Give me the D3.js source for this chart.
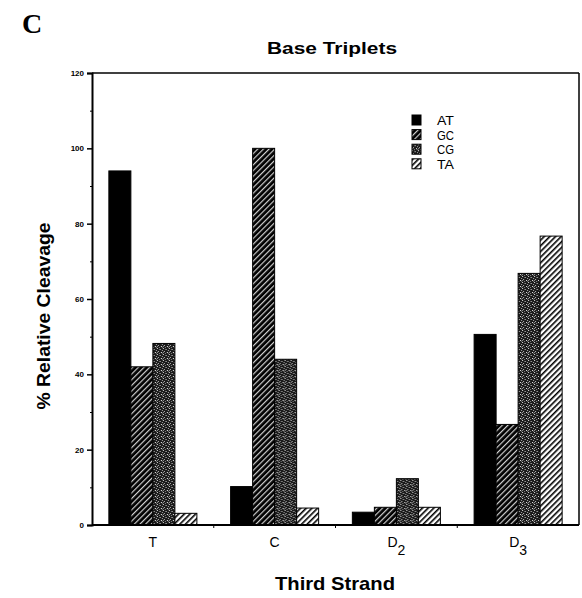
<!DOCTYPE html>
<html>
<head>
<meta charset="utf-8">
<script src="https://cdn.jsdelivr.net/npm/d3@7/dist/d3.min.js"></script>
<style>
  html, body { margin: 0; padding: 0; background: #fff; }
  svg { display: block; font-family: "Liberation Sans", Arial, Helvetica, sans-serif; }
</style>
</head>
<body>
<svg id="chart" width="582" height="598"></svg>
<script>
// ---- data ----
const categories = ["T", "C", "D2", "D3"];
const categorySubs = ["", "", "2", "3"];
const categoryBase = ["T", "C", "D", "D"];
const seriesNames = ["AT", "GC", "CG", "TA"];
const valuesAT = [94, 10.2, 3.4, 50.6];
const valuesGC = [42, 100, 4.7, 26.7];
const valuesCG = [48.2, 44, 12.3, 66.8];
const valuesTA = [3.1, 4.5, 4.7, 76.7];
const yTicks = [0, 20, 40, 60, 80, 100, 120];
const yMinorTicks = [10, 30, 50, 70, 90, 110];

const seriesValues = [valuesAT, valuesGC, valuesCG, valuesTA];

const svg = d3.select("#chart");
const plotLeft = 92, plotRight = 579, plotTop = 73, plotBottom = 525;

// patterns
const defs = svg.append("defs");
const pGC = defs.append("pattern").attr("id", "pGC").attr("patternUnits", "userSpaceOnUse")
  .attr("width", 4).attr("height", 4).attr("patternTransform", "rotate(45)");
pGC.append("rect").attr("width", 4).attr("height", 4).attr("fill", "#000");
pGC.append("rect").attr("x", 0).attr("y", 0).attr("width", 1.2).attr("height", 4).attr("fill", "#d0d0d0");
const pCG = defs.append("pattern").attr("id", "pCG").attr("patternUnits", "userSpaceOnUse")
  .attr("width", 6).attr("height", 6);
pCG.append("rect").attr("width", 6).attr("height", 6).attr("fill", "#1a1a1a");
[[0,0,"#ddd"],[3,1,"#999"],[1,3,"#bbb"],[4,4,"#eee"],[2,5,"#888"],[5,2,"#aaa"],[2,1,"#666"],[5,5,"#777"],[0,4,"#999"]].forEach(([x,y,c]) => {
  pCG.append("rect").attr("x", x).attr("y", y).attr("width", 1).attr("height", 1).attr("fill", c);
});
const pTA = defs.append("pattern").attr("id", "pTA").attr("patternUnits", "userSpaceOnUse")
  .attr("width", 4).attr("height", 4).attr("patternTransform", "rotate(45)");
pTA.append("rect").attr("width", 4).attr("height", 4).attr("fill", "#fff");
pTA.append("rect").attr("x", 0).attr("y", 0).attr("width", 1.6).attr("height", 4).attr("fill", "#000");

const fills = ["#000", "url(#pGC)", "url(#pCG)", "url(#pTA)"];

// scales
const x0 = d3.scaleBand().domain(categories).range([plotLeft, plotRight]).paddingInner(0.277).paddingOuter(0.1385);
const x1 = d3.scaleBand().domain(seriesNames).range([0, x0.bandwidth()]).padding(0);
const y = d3.scaleLinear().domain([0, 120]).range([plotBottom, plotTop]);

// bars
const groups = svg.append("g").selectAll("g").data(categories).join("g")
  .attr("transform", d => `translate(${x0(d)},0)`);
groups.selectAll("rect").data((d, i) => seriesNames.map((s, j) => ({ s, j, v: seriesValues[j][i] })))
  .join("rect")
  .attr("x", d => x1(d.s))
  .attr("y", d => y(d.v))
  .attr("width", x1.bandwidth())
  .attr("height", d => y(0) - y(d.v))
  .attr("fill", d => fills[d.j])
  .attr("stroke", "#000")
  .attr("stroke-width", 1);

// frame
svg.append("line").attr("x1", plotLeft).attr("x2", plotRight).attr("y1", plotTop).attr("y2", plotTop).attr("stroke", "#000").attr("stroke-width", 1.5);
svg.append("line").attr("x1", plotRight).attr("x2", plotRight).attr("y1", plotTop).attr("y2", plotBottom).attr("stroke", "#000").attr("stroke-width", 1.5);

// y axis
const yAxis = d3.axisLeft(y).tickValues(yTicks).tickSize(5).tickPadding(3).tickFormat(d3.format("d"));
const gy = svg.append("g").attr("transform", `translate(${plotLeft},0)`).call(yAxis);
gy.select(".domain").attr("stroke-width", 2);
gy.selectAll(".tick line").attr("stroke-width", 1.5);
gy.selectAll(".tick text").attr("font-size", 8).attr("font-weight", "bold").attr("font-family", "'Liberation Sans', Arial, sans-serif");
const gyMinor = svg.append("g").attr("transform", `translate(${plotLeft},0)`)
  .call(d3.axisLeft(y).tickValues(yMinorTicks).tickSize(2).tickFormat(""));
gyMinor.select(".domain").remove();

// x axis
const xAxis = d3.axisBottom(x0).tickSize(0).tickPadding(12).tickFormat("");
const gx = svg.append("g").attr("transform", `translate(0,${plotBottom})`).call(xAxis);
gx.select(".domain").attr("stroke-width", 2).attr("d", `M${plotLeft},0H${plotRight}`);
const boundaries = categories.slice(1).map(c => x0(c) - x0.step() * x0.paddingInner() / 2);
gx.selectAll(".bnd").data(boundaries).join("line").attr("class", "bnd")
  .attr("x1", d => d).attr("x2", d => d).attr("y1", 0).attr("y2", 3).attr("stroke", "#000");

// category labels with subscripts
categories.forEach((c, i) => {
  const t = svg.append("text")
    .attr("x", x0(c) + x0.bandwidth() / 2)
    .attr("y", 547)
    .attr("text-anchor", "middle")
    .attr("font-size", 14);
  t.append("tspan").text(categoryBase[i]);
  if (categorySubs[i]) {
    t.append("tspan").attr("dy", 8).attr("font-size", 14).text(categorySubs[i]);
  }
});

// titles
svg.append("text").attr("x", 332).attr("y", 54).attr("text-anchor", "middle")
  .attr("font-size", 17).attr("font-weight", "bold")
  .attr("textLength", 130).attr("lengthAdjust", "spacingAndGlyphs").text("Base Triplets");
svg.append("text").attr("x", 335).attr("y", 590).attr("text-anchor", "middle")
  .attr("font-size", 19).attr("font-weight", "bold")
  .attr("textLength", 120).attr("lengthAdjust", "spacingAndGlyphs").text("Third Strand");
svg.append("text").attr("transform", "translate(50,316) rotate(-90)").attr("text-anchor", "middle")
  .attr("font-size", 18).attr("font-weight", "bold")
  .attr("textLength", 187).attr("lengthAdjust", "spacingAndGlyphs").text("% Relative Cleavage");
svg.append("text").attr("x", 22).attr("y", 33)
  .attr("font-family", "'Liberation Serif', 'Times New Roman', serif")
  .attr("font-size", 28).attr("font-weight", "bold").text("C");

// legend
const legend = svg.append("g").attr("transform", "translate(412,115)");
seriesNames.forEach((s, i) => {
  const g = legend.append("g").attr("transform", `translate(0,${i * 14.6})`);
  g.append("rect").attr("width", 9).attr("height", 10).attr("fill", fills[i]).attr("stroke", "#000").attr("stroke-width", 1);
  g.append("text").attr("x", 25).attr("y", 10).attr("font-size", 13).attr("textLength", 17)
    .attr("lengthAdjust", "spacingAndGlyphs").text(s);
});
</script>
</body>
</html>
